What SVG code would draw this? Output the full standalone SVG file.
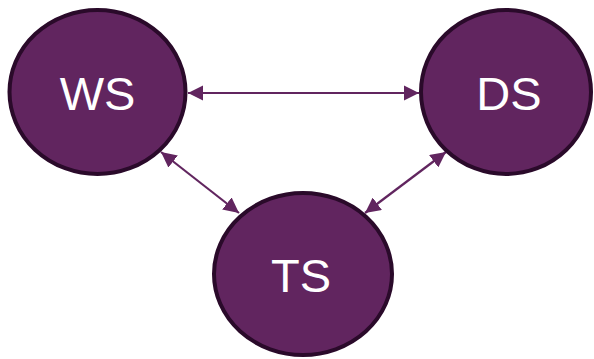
<svg xmlns="http://www.w3.org/2000/svg" width="594" height="359" viewBox="0 0 594 359">
<style>
.node{fill:#61255f;stroke:#2a0a2a;stroke-width:4}
.lbl{fill:#fff;font-family:"Liberation Sans",Arial,sans-serif;font-size:47px;text-anchor:middle}
.conn{stroke:#61255f;stroke-width:2.2;fill:none;marker-start:url(#ah);marker-end:url(#ah)}
</style>
<defs>
<marker id="ah" viewBox="0 0 10 10" refX="10" refY="5" markerWidth="7" markerHeight="7" markerUnits="strokeWidth" orient="auto-start-reverse">
<path d="M0,0 L10,5 L0,10 z" fill="#61255f"/>
</marker>
</defs>
<g id="connectors">
<line class="conn" x1="188" y1="93" x2="419" y2="93"/>
<line class="conn" x1="161" y1="152" x2="239" y2="213"/>
<line class="conn" x1="446" y1="152" x2="365" y2="213"/>
</g>
<g id="WS">
<ellipse class="node" cx="97.5" cy="92" rx="88" ry="82"/>
<text class="lbl" x="97.5" y="110">WS</text>
</g>
<g id="DS">
<ellipse class="node" cx="506" cy="92" rx="85" ry="82"/>
<text class="lbl" x="509" y="110">DS</text>
</g>
<g id="TS">
<ellipse class="node" cx="303" cy="274" rx="89" ry="81"/>
<text class="lbl" x="301" y="292">TS</text>
</g>
</svg>
